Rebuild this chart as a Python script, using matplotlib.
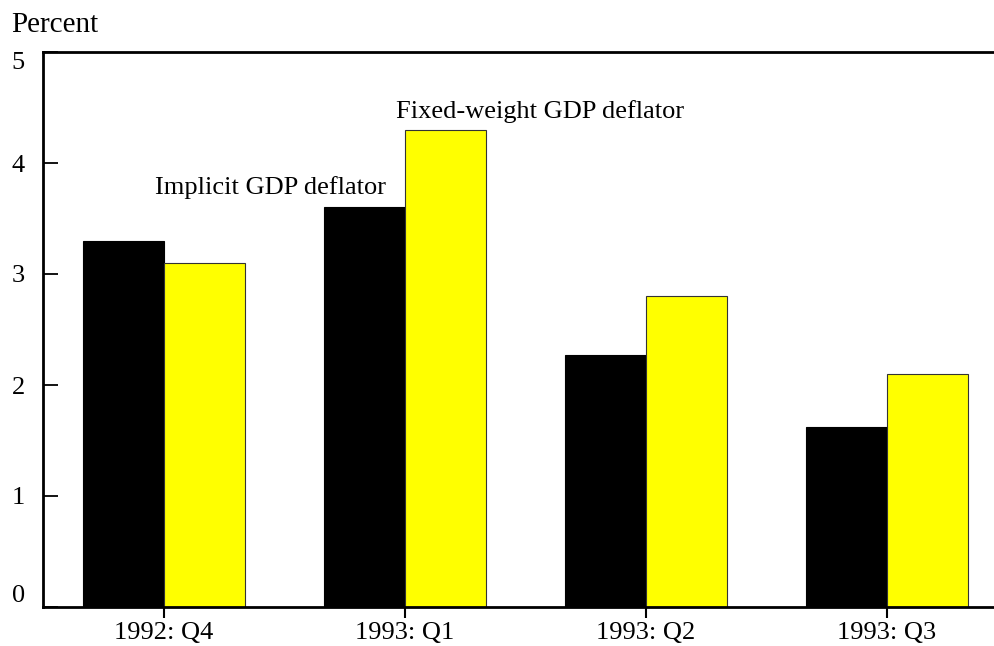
import matplotlib
matplotlib.use("Agg")
import matplotlib.pyplot as plt
import numpy as np

plt.rcParams['font.family'] = ['Liberation Serif', 'DejaVu Serif']

quarters = ["1992: Q4", "1993: Q1", "1993: Q2", "1993: Q3"]
implicit = [3.30, 3.60, 2.27, 1.62]
fixed_weight = [3.10, 4.30, 2.80, 2.10]
y_ticks = [0, 1, 2, 3, 4, 5]

fig = plt.figure(figsize=(9.94, 6.46), dpi=100)
ax = fig.add_axes([43 / 994, 1 - 607 / 646, 1 - 43 / 994, (607 - 52) / 646])

x = np.arange(len(quarters))
w = 0.338
ax.bar(x - w / 2, implicit, width=w, color="black", edgecolor="black", linewidth=0.8)
ax.bar(x + w / 2, fixed_weight, width=w, color="#ffff00", edgecolor="#333333", linewidth=0.8)

ax.set_xlim(-0.502, 3.444)
ax.set_ylim(0, 5)
ax.set_xticks(x)
ax.set_xticklabels(quarters, fontsize=19)
ax.set_yticks(y_ticks)
ax.set_yticklabels([str(v) for v in y_ticks], fontsize=19)
ax.tick_params(axis="y", length=11, width=1.3, direction="in", pad=13)
ax.tick_params(axis="x", length=8, width=1.5, direction="out", pad=3)

# first and last labels sit inside the axis span, like the original
labels = ax.get_yticklabels()
labels[0].set_va("bottom")
labels[-1].set_va("top")

ax.spines["right"].set_visible(False)
for s in ["left", "top", "bottom"]:
    ax.spines[s].set_linewidth(2)

ax.text(0.444, 3.78, "Implicit GDP deflator", ha="center", va="center", fontsize=19)
ax.text(1.56, 4.46, "Fixed-weight GDP deflator", ha="center", va="center", fontsize=19)
fig.text(11 / 994, 1 - 25 / 646, "Percent", ha="left", va="center", fontsize=21)

fig.savefig("out.png", dpi=100)
